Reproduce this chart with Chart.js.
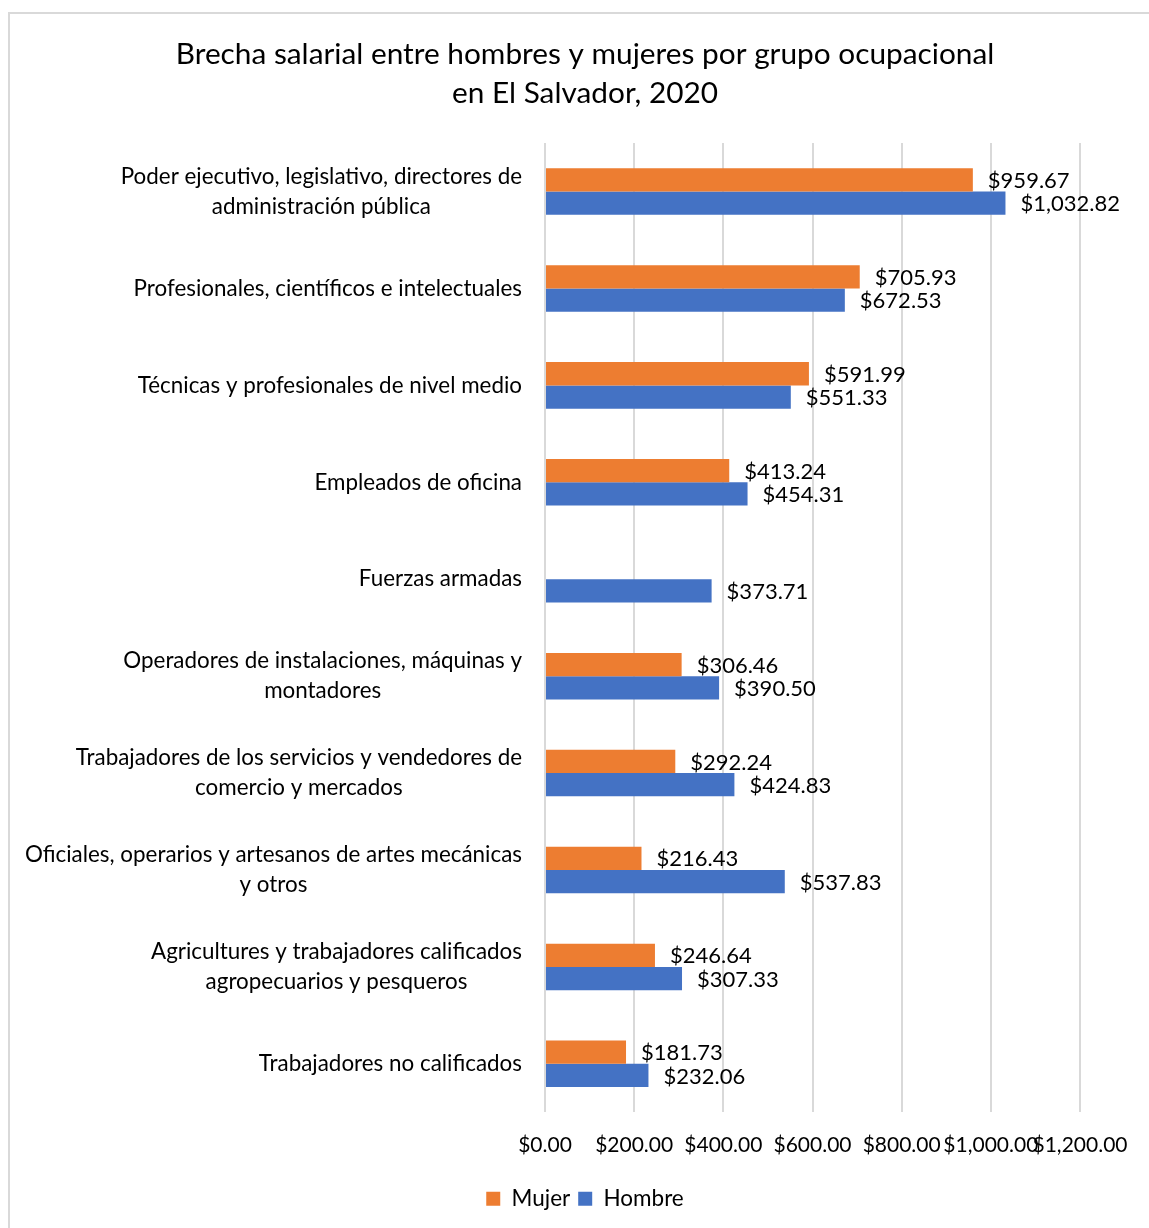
<!DOCTYPE html>
<html>
<head>
<meta charset="utf-8">
<script src="https://cdn.jsdelivr.net/npm/chart.js@4.4.1/dist/chart.umd.min.js"></script>
<style>
    html, body { margin: 0; padding: 0; background: #fff; overflow: hidden; }
    #frame {
        position: absolute; left: 8px; top: 12px; width: 1160px; height: 1240px;
        border: 2px solid #d9d9d9; box-sizing: border-box;
    }
    #salaryGapChart { position: absolute; left: 0; top: 0; }
</style>
</head>
<body>
<div id="frame"></div>
<canvas id="salaryGapChart" width="1149" height="1228"></canvas>
<script>
const categories = [
    ['Poder ejecutivo, legislativo, directores de', 'administración pública'],
    'Profesionales, científicos e intelectuales',
    'Técnicas y profesionales de nivel medio',
    'Empleados de oficina',
    'Fuerzas armadas',
    ['Operadores de instalaciones, máquinas y', 'montadores'],
    ['Trabajadores de los servicios y vendedores de', 'comercio y mercados'],
    ['Oficiales, operarios y artesanos de artes mecánicas', 'y otros'],
    ['Agricultures y trabajadores calificados', 'agropecuarios y pesqueros'],
    'Trabajadores no calificados'
];
const mujerValues = [959.67, 705.93, 591.99, 413.24, null, 306.46, 292.24, 216.43, 246.64, 181.73];
const hombreValues = [1032.82, 672.53, 551.33, 454.31, 373.71, 390.50, 424.83, 537.83, 307.33, 232.06];
const xTicks = [0, 200, 400, 600, 800, 1000, 1200];

const FONT = 'Lato';
const TEXT = '#000';

function money(v) {
    return '$' + v.toLocaleString('en-US', { minimumFractionDigits: 2, maximumFractionDigits: 2 });
}

// value labels to the right of each bar
const barLabels = {
    id: 'barLabels',
    afterDatasetsDraw(chart) {
        const ctx = chart.ctx;
        ctx.save();
        ctx.font = '22px ' + FONT;
        ctx.fillStyle = TEXT;
        ctx.textAlign = 'left';
        ctx.textBaseline = 'middle';
        chart.data.datasets.forEach((ds, i) => {
            chart.getDatasetMeta(i).data.forEach((bar, j) => {
                const v = ds.data[j];
                if (v === null || v === undefined) return;
                ctx.fillText(money(v), bar.x + 15, bar.y + 1);
            });
        });
        ctx.restore();
    }
};

// category labels: block right aligned, lines centred inside the block (like Excel)
const categoryLabels = {
    id: 'categoryLabels',
    afterDraw(chart) {
        const ctx = chart.ctx;
        const yScale = chart.scales.y;
        const right = chart.chartArea.left - 23;
        const lh = 30;
        ctx.save();
        ctx.font = '22.4px ' + FONT;
        ctx.fillStyle = TEXT;
        ctx.textAlign = 'center';
        ctx.textBaseline = 'middle';
        categories.forEach((label, i) => {
            const lines = Array.isArray(label) ? label : [label];
            const w = Math.max(...lines.map(l => ctx.measureText(l).width));
            const cx = right - w / 2;
            const y0 = yScale.getPixelForTick(i) - (lines.length - 1) * lh / 2;
            lines.forEach((l, k) => ctx.fillText(l, cx, y0 + k * lh));
        });
        ctx.restore();
    }
};

const ctx = document.getElementById('salaryGapChart').getContext('2d');
new Chart(ctx, {
    type: 'bar',
    data: {
        labels: categories,
        datasets: [
            {
                label: 'Mujer',
                data: mujerValues,
                backgroundColor: '#ED7D31',
                categoryPercentage: 0.48,
                barPercentage: 1.0
            },
            {
                label: 'Hombre',
                data: hombreValues,
                backgroundColor: '#4472C4',
                categoryPercentage: 0.48,
                barPercentage: 1.0
            }
        ]
    },
    options: {
        indexAxis: 'y',
        responsive: false,
        animation: false,
        devicePixelRatio: 1,
        layout: { padding: { left: 90, right: 69, top: 0, bottom: 8 } },
        scales: {
            x: {
                min: 0,
                max: 1200,
                afterBuildTicks(scale) {
                    scale.ticks = xTicks.map(v => ({ value: v }));
                },
                afterFit(scale) { scale.height += 2; },
                grid: { color: '#d9d9d9', lineWidth: 2, drawTicks: false },
                border: { display: false },
                ticks: {
                    autoSkip: false,
                    maxRotation: 0,
                    padding: 20,
                    color: TEXT,
                    font: { family: FONT, size: 21 },
                    callback: (v) => money(v)
                }
            },
            y: {
                grid: { display: false },
                border: { display: false },
                ticks: { display: false },
                afterFit(scale) { scale.width = 455; }
            }
        },
        plugins: {
            title: {
                display: true,
                text: ['Brecha salarial entre hombres y mujeres por grupo ocupacional', 'en El Salvador, 2020'],
                color: TEXT,
                font: { family: FONT, size: 29.8, weight: 'normal', lineHeight: 1.31 },
                padding: { top: 34.5, bottom: 30.5 }
            },
            legend: {
                position: 'bottom',
                labels: {
                    color: TEXT,
                    boxWidth: 14,
                    boxHeight: 14,
                    padding: 8,
                    font: { family: FONT, size: 22.5 }
                }
            },
            tooltip: { enabled: false }
        }
    },
    plugins: [barLabels, categoryLabels]
});
</script>
</body>
</html>
